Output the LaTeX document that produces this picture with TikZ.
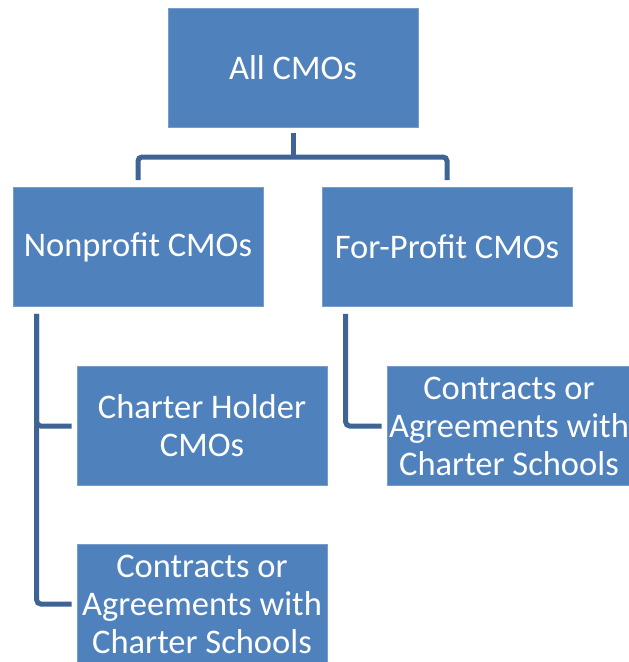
\documentclass[tikz,border=0pt]{standalone}
\usepackage{fontspec}
\setmainfont{Carlito}
\definecolor{boxblue}{HTML}{4F81BD}
\definecolor{boxedge}{HTML}{7A9CCB}
\definecolor{linkblue}{HTML}{3E6496}
\tikzset{
  cmo/.style={rectangle, fill=boxblue, draw=boxedge, line width=0.6pt, text=white,
    minimum width=250, minimum height=119, align=center, inner sep=0pt,
    font=\fontsize{34.5}{38}\selectfont},
  link/.style={draw=linkblue, line width=5pt, rounded corners=4pt}
}
\begin{document}
\begin{tikzpicture}[x=1pt, y=-1pt]
\useasboundingbox (0,0) rectangle (629,662);
\node[cmo] (all) at (293,68){All CMOs};
\node[cmo] (nonprofit) at (138,247){Nonprofit CMOs};
\node[cmo] (forprofit) at (447,247){For-Profit CMOs};
\node[cmo] (holder) at (202,426){Charter Holder\\CMOs};
\node[cmo] (contractl) at (202,604){Contracts or\\Agreements with\\Charter Schools};
\node[cmo, minimum width=244] (contractr) at (509,426){Contracts or\\Agreements with\\Charter Schools};
\coordinate (fork) at (293,157);
\draw[link]([yshift=-5]all.south) -- (fork);
\draw[link]([yshift=7]nonprofit.north) |- (fork) -| ([yshift=7]forprofit.north);
\draw[link]([xshift=24,yshift=-7]nonprofit.south west) |- ([xshift=-5]holder.west);
\draw[link]([xshift=24,yshift=-7]nonprofit.south west) |- ([xshift=-5]contractl.west);
\draw[link]([xshift=24,yshift=-7]forprofit.south west) |- ([xshift=-5]contractr.west);
\end{tikzpicture}
\end{document}
